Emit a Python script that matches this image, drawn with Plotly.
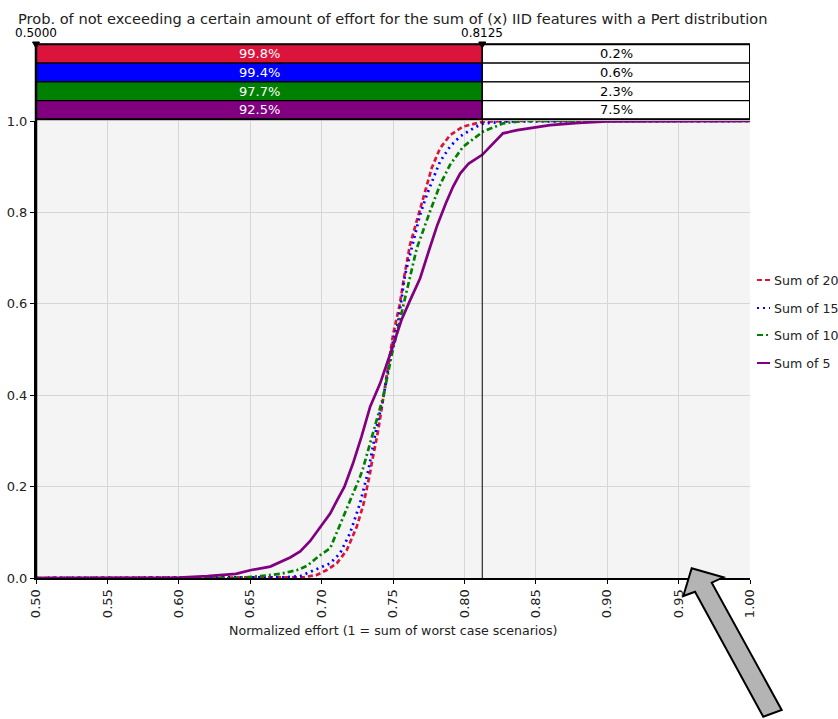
import plotly.graph_objects as go

# ---------------- data ----------------
series_names = ["Sum of 20", "Sum of 15", "Sum of 10", "Sum of 5"]
series_colors = ["#DC143C", "#0000FF", "#008000", "#800080"]

x_sum20 = [0.50, 0.675, 0.6872, 0.6966, 0.7036, 0.7106, 0.7176, 0.7246, 0.7292, 0.7339, 0.7351,
           0.7397, 0.7432, 0.7467, 0.7502, 0.7549, 0.7572, 0.7619, 0.7666, 0.7712, 0.7771,
           0.7829, 0.7899, 0.7992, 0.8109, 0.8125, 0.83, 1.0]
y_sum20 = [0.0, 0.0, 0.0015, 0.0066, 0.0175, 0.032, 0.061, 0.112, 0.160, 0.229, 0.251,
           0.324, 0.397, 0.462, 0.535, 0.601, 0.648, 0.729, 0.780, 0.831, 0.897,
           0.940, 0.969, 0.988, 0.997, 0.998, 1.0, 1.0]

x_sum15 = [0.50, 0.66, 0.673, 0.685, 0.6966, 0.7059, 0.7129, 0.7199, 0.7269, 0.7327, 0.7386,
           0.7428, 0.7460, 0.7502, 0.7537, 0.7584, 0.7642, 0.7689, 0.7736, 0.7782, 0.7829,
           0.7899, 0.7969, 0.8062, 0.8125, 0.8179, 0.83, 1.0]
y_sum15 = [0.0, 0.0, 0.0015, 0.004, 0.020, 0.032, 0.054, 0.098, 0.163, 0.235, 0.331,
           0.389, 0.444, 0.521, 0.561, 0.663, 0.736, 0.794, 0.838, 0.875, 0.911,
           0.944, 0.966, 0.984, 0.994, 0.996, 0.999, 1.0]

x_sum10 = [0.50, 0.64, 0.657, 0.671, 0.683, 0.690, 0.695, 0.699, 0.706, 0.713, 0.720, 0.727,
           0.729, 0.7374, 0.7432, 0.7491, 0.7537, 0.7572, 0.7596, 0.7666, 0.7759, 0.7829,
           0.7899, 0.7992, 0.8132, 0.8273, 0.8413, 1.0]
y_sum10 = [0.0, 0.0, 0.004, 0.009, 0.0175, 0.027, 0.040, 0.050, 0.065, 0.116, 0.171, 0.222,
           0.240, 0.335, 0.397, 0.488, 0.550, 0.601, 0.634, 0.721, 0.802, 0.860,
           0.904, 0.944, 0.977, 0.995, 1.0, 1.0]

x_sum5 = [0.50, 0.60, 0.62, 0.64, 0.65, 0.664, 0.678, 0.685, 0.692, 0.699, 0.706, 0.711,
          0.716, 0.722, 0.728, 0.734, 0.741, 0.749, 0.7526, 0.756, 0.762, 0.769, 0.775,
          0.781, 0.787, 0.792, 0.797, 0.803, 0.8125, 0.82, 0.827, 0.837, 0.85, 0.86,
          0.88, 0.90, 1.0]
y_sum5 = [0.0, 0.001, 0.004, 0.009, 0.017, 0.025, 0.045, 0.058, 0.081, 0.112, 0.141, 0.171,
          0.200, 0.251, 0.310, 0.375, 0.426, 0.499, 0.535, 0.565, 0.608, 0.656, 0.715,
          0.772, 0.820, 0.856, 0.885, 0.907, 0.926, 0.950, 0.973, 0.980, 0.987, 0.991,
          0.996, 0.999, 1.0]

series_x = [x_sum20, x_sum15, x_sum10, x_sum5]
series_y = [y_sum20, y_sum15, y_sum10, y_sum5]

threshold_low = 0.5000
threshold_high = 0.8125
pct_not_exceed = ["99.8%", "99.4%", "97.7%", "92.5%"]
pct_exceed = ["0.2%", "0.6%", "2.3%", "7.5%"]

x_tickvals = [0.50, 0.55, 0.60, 0.65, 0.70, 0.75, 0.80, 0.85, 0.90, 0.95, 1.00]
y_tickvals = [0.0, 0.2, 0.4, 0.6, 0.8, 1.0]

title_text = "Prob. of not exceeding a certain amount of effort for the sum of (x) IID features with a Pert distribution"
xaxis_title = "Normalized effort (1 = sum of worst case scenarios)"

# ---------------- layout geometry ----------------
W, H = 838, 719
PL, PR, PT, PB = 36, 750, 121, 578   # plot area in window pixels
ML, MT = PL, PT
MR, MB = W - PR, H - PB
PW, PH = PR - PL, PB - PT
FONT = "DejaVu Sans"
dash_styles = ["5px,3px", "2px,4px", "6px,3px,2px,3px", "solid"]


def px(xp):
    return (xp - PL) / PW


def py(yp):
    return (PB - yp) / PH


fig = go.Figure()
for name, xs, ys, col, dsh in zip(series_names, series_x, series_y, series_colors, dash_styles):
    fig.add_trace(go.Scatter(x=xs, y=ys, mode="lines", name=name,
                             line=dict(color=col, width=2.7, dash=dsh),
                             showlegend=False))

shapes = []
annotations = []

# table rows above plot
row_top = 44.3
row_h = 18.75
for i, (col, a, b) in enumerate(zip(series_colors, pct_not_exceed, pct_exceed)):
    y1 = py(row_top + i * row_h)
    y0 = py(row_top + (i + 1) * row_h)
    shapes.append(dict(type="rect", xref="x", yref="paper", x0=threshold_low, x1=threshold_high,
                       y0=y0, y1=y1, fillcolor=col, line=dict(color="black", width=1.2)))
    shapes.append(dict(type="rect", xref="x", yref="paper", x0=threshold_high, x1=1.0,
                       y0=y0, y1=y1, fillcolor="white", line=dict(color="black", width=1.2)))
    annotations.append(dict(x=(threshold_low + threshold_high) / 2, xref="x", y=(y0 + y1) / 2, yref="paper",
                            text=a, showarrow=False, font=dict(family=FONT, size=13, color="white"),
                            xanchor="center", yanchor="middle"))
    annotations.append(dict(x=(threshold_high + 1.0) / 2, xref="x", y=(y0 + y1) / 2, yref="paper",
                            text=b, showarrow=False, font=dict(family=FONT, size=13, color="black"),
                            xanchor="center", yanchor="middle"))

# outer table border
shapes.append(dict(type="rect", xref="x", yref="paper", x0=0.5, x1=1.0,
                   y0=py(row_top + 4 * row_h), y1=py(row_top), line=dict(color="black", width=2)))
# left thick edge
shapes.append(dict(type="line", xref="paper", yref="paper", x0=0, x1=0,
                   y0=0, y1=py(row_top), line=dict(color="black", width=2.5)))
# threshold vertical line
shapes.append(dict(type="line", xref="x", yref="paper", x0=threshold_high, x1=threshold_high,
                   y0=0, y1=py(row_top), line=dict(color="black", width=1), layer="above"))

# threshold triangles and labels
for xv in [threshold_low, threshold_high]:
    xc = PL + (xv - 0.5) / 0.5 * PW
    path = "M {:.4f},{:.4f} L {:.4f},{:.4f} L {:.4f},{:.4f} Z".format(
        px(xc - 3.5), py(42), px(xc + 3.5), py(42), px(xc), py(48))
    shapes.append(dict(type="path", xref="paper", yref="paper", path=path,
                       fillcolor="black", line=dict(color="black", width=1)))
    annotations.append(dict(x=xv, xref="x", y=py(33), yref="paper", text="{:.4f}".format(xv),
                            showarrow=False, font=dict(family=FONT, size=12, color="black"),
                            xanchor="center", yanchor="middle"))

# title
annotations.append(dict(x=px(16), xref="paper", y=py(18), yref="paper", text=title_text,
                        showarrow=False, font=dict(family=FONT, size=14.6, color="#222"),
                        xanchor="left", yanchor="middle"))
# x-axis title
annotations.append(dict(x=0.5, xref="paper", y=py(630), yref="paper", text=xaxis_title,
                        showarrow=False, font=dict(family=FONT, size=12.6, color="#222"),
                        xanchor="center", yanchor="middle"))

# manual legend
leg_y = [280, 308, 335, 363]
for name, col, dsh, yy in zip(series_names, series_colors, dash_styles, leg_y):
    shapes.append(dict(type="line", xref="paper", yref="paper", x0=px(757), x1=px(770),
                       y0=py(yy), y1=py(yy), line=dict(color=col, width=2, dash=dsh)))
    annotations.append(dict(x=px(772), xref="paper", y=py(yy), yref="paper", text=name,
                            showarrow=False, font=dict(family=FONT, size=12.6, color="#222"),
                            xanchor="left", yanchor="middle"))

# big gray arrow
arrow_pts = [(691.7, 568.3), (723.3, 577.3), (711.7, 582.7), (781.7, 710.0),
             (763.3, 716.7), (695.0, 591.7), (683.3, 596.0)]
arrow_path = "M " + " L ".join("{:.4f},{:.4f}".format(px(a), py(b)) for a, b in arrow_pts) + " Z"
shapes.append(dict(type="path", xref="paper", yref="paper", path=arrow_path,
                   fillcolor="#b4b4b4", line=dict(color="black", width=2), layer="above"))

fig.update_layout(
    width=W, height=H,
    margin=dict(l=ML, r=MR, t=MT, b=MB, pad=0, autoexpand=False),
    paper_bgcolor="white", plot_bgcolor="#f4f4f4",
    font=dict(family=FONT, size=12, color="#222"),
    shapes=shapes, annotations=annotations,
    showlegend=False,
    xaxis=dict(range=[0.5, 1.0], tickvals=x_tickvals,
               ticktext=["{:.2f}".format(v) for v in x_tickvals],
               tickangle=-90, tickfont=dict(family=FONT, size=13),
               showgrid=True, gridcolor="#d6d6d6", gridwidth=1,
               showline=True, linecolor="black", linewidth=2,
               ticks="outside", ticklen=4, tickcolor="black", zeroline=False),
    yaxis=dict(range=[0, 1.0], tickvals=y_tickvals,
               ticktext=["{:.1f}".format(v) for v in y_tickvals],
               tickfont=dict(family=FONT, size=13),
               showgrid=True, gridcolor="#d6d6d6", gridwidth=1,
               showline=True, linecolor="black", linewidth=2,
               ticks="outside", ticklen=4, tickcolor="black", zeroline=False),
)

fig.write_html("out.html", config={"displayModeBar": False},
               post_script="document.body.style.margin='0';document.body.style.overflow='hidden';")
